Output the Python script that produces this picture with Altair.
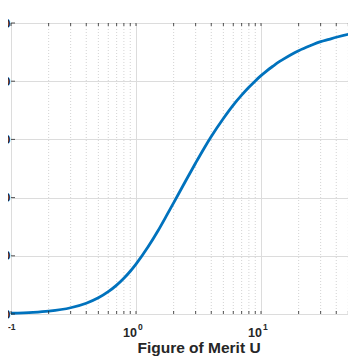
import altair as alt
import pandas as pd

# Figure of merit U (log axis) and efficiency in percent
u_values = [0.1, 0.15, 0.2, 0.3, 0.4, 0.5, 0.6, 0.7, 0.8, 0.9, 1.0, 1.25, 1.5, 1.75,
            2.0, 2.5, 3.0, 3.5, 4.0, 5.0, 6.0, 7.0, 8.0, 9.0, 10.0, 11.0, 12.5,
            14.0, 15.0, 17.5, 20.0, 25.0, 30.0, 35.0, 40.0, 50.0, 60.0, 80.0, 100.0]
efficiency = [0.25, 0.56, 0.98, 2.15, 3.71, 5.57, 7.67, 9.94, 12.3, 14.7, 17.16,
              23.1, 28.6, 33.7, 38.2, 45.8, 51.9, 56.9, 61.0, 67.2, 71.8, 75.2,
              77.9, 80.1, 81.9, 83.4, 85.2, 86.7, 87.5, 89.2, 90.5, 92.3, 93.6,
              94.4, 95.1, 96.1, 96.7, 97.5, 98.0]

x_major = [0.1, 1, 10, 100]
x_exponents = ["-1", "0", "1", "2"]
x_minor = [0.2, 0.3, 0.4, 0.5, 0.6, 0.7, 0.8, 0.9,
           2, 3, 4, 5, 6, 7, 8, 9,
           20, 30, 40, 50, 60, 70, 80, 90]
y_ticks = [0, 20, 40, 60, 80, 100]
x_title = "Figure of Merit U"

W, H = 375, 291
AX = "#262626"
GRID = "#dcdcdc"
FONT = "Liberation Sans"

curve = pd.DataFrame({"U": u_values, "eta": efficiency})
minor_df = pd.DataFrame({"U": x_minor})
alltick_df = pd.DataFrame({"U": x_major + x_minor})
ytick_df = pd.DataFrame({"v": y_ticks})
xlab_df = pd.DataFrame({"U": x_major, "base": ["10"] * len(x_major), "exp": x_exponents})

xscale = alt.Scale(type="log", domain=[0.1, 100])
yscale = alt.Scale(domain=[0, 100])

minor_grid = alt.Chart(minor_df).mark_rule(
    color="#c8c8c8", strokeWidth=0.8, strokeDash=[1, 2]
).encode(x=alt.X("U:Q", scale=xscale))

line = alt.Chart(curve).mark_line(
    color="#0072BD", strokeWidth=2.8, interpolate="monotone"
).encode(
    x=alt.X("U:Q", scale=xscale,
            axis=alt.Axis(values=x_major, labels=False, title=x_title,
                          grid=True, gridColor=GRID, gridWidth=1,
                          domain=False, ticks=False,
                          titleFont=FONT, titleFontSize=15.5,
                          titleFontWeight="bold", titleColor=AX,
                          titleBaseline="alphabetic", titleY=38)),
    y=alt.Y("eta:Q", scale=yscale,
            axis=alt.Axis(values=y_ticks, title=None, grid=True,
                          gridColor=GRID, gridWidth=1, domain=False,
                          ticks=False, labelPadding=1, labelFontSize=13,
                          labelFontWeight="bold", labelColor=AX,
                          labelFont=FONT)),
)

bottom_ticks = alt.Chart(alltick_df).mark_rule(color=AX, strokeWidth=0.8).encode(
    x=alt.X("U:Q", scale=xscale), y=alt.value(H), y2=alt.value(H - 3))
top_ticks = alt.Chart(alltick_df).mark_rule(color=AX, strokeWidth=0.8).encode(
    x=alt.X("U:Q", scale=xscale), y=alt.value(0), y2=alt.value(3))
left_ticks = alt.Chart(ytick_df).mark_rule(color=AX, strokeWidth=0.8).encode(
    y=alt.Y("v:Q", scale=yscale), x=alt.value(0), x2=alt.value(4))

lab = alt.Chart(xlab_df)
first = alt.datum.U < 0.5
rest = alt.datum.U >= 0.5
base_first = lab.transform_filter(first).mark_text(
    align="right", baseline="alphabetic", dx=-4, font=FONT, fontSize=12.5,
    fontWeight="bold", color=AX
).encode(x=alt.X("U:Q", scale=xscale), y=alt.value(H + 23), text="base:N")
exp_first = lab.transform_filter(first).mark_text(
    align="left", baseline="alphabetic", dx=-3, font=FONT, fontSize=8.5,
    fontWeight="bold", color=AX
).encode(x=alt.X("U:Q", scale=xscale), y=alt.value(H + 15.5), text="exp:N")
base_rest = lab.transform_filter(rest).mark_text(
    align="right", baseline="alphabetic", dx=1, font=FONT, fontSize=12.5,
    fontWeight="bold", color=AX
).encode(x=alt.X("U:Q", scale=xscale), y=alt.value(H + 23), text="base:N")
exp_rest = lab.transform_filter(rest).mark_text(
    align="left", baseline="alphabetic", dx=2, font=FONT, fontSize=8.5,
    fontWeight="bold", color=AX
).encode(x=alt.X("U:Q", scale=xscale), y=alt.value(H + 15.5), text="exp:N")

chart = alt.layer(minor_grid, line, bottom_ticks, top_ticks, left_ticks,
                  base_first, exp_first, base_rest, exp_rest).properties(
    width=W, height=H,
    autosize=alt.AutoSizeParams(type="none"),
    padding={"left": 3, "top": 15, "right": -38, "bottom": 42},
    background="white",
).configure_view(stroke="#555555", strokeWidth=1)

chart.save("out.html", embed_options={"renderer": "svg", "actions": False})
